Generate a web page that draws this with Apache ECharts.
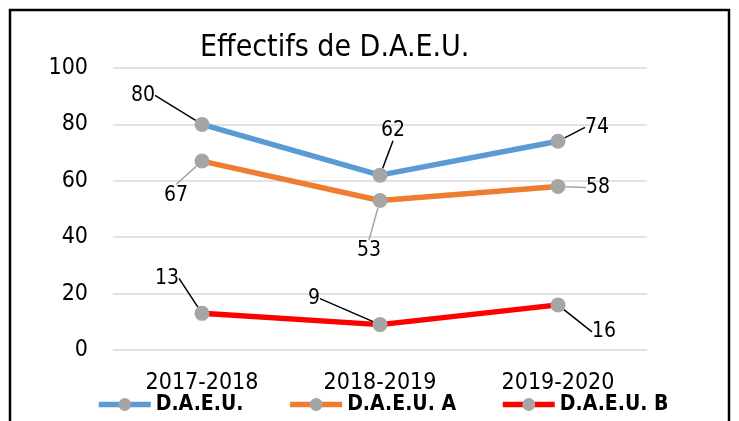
<html>
<head>
<meta charset="UTF-8" />
<script src="https://cdn.jsdelivr.net/npm/echarts@6/dist/echarts.min.js"></script>
<style>
  body { margin: 0; background: #fff; }
</style>
</head>
<body>
<div id="container" style="width: 739px; height: 421px;"></div>
<script>
// data
var categories = ['2017-2018', '2018-2019', '2019-2020'];
var seriesNames = ['D.A.E.U.', 'D.A.E.U. A', 'D.A.E.U. B'];
var daeu = [80, 62, 74];
var daeuA = [67, 53, 58];
var daeuB = [13, 9, 16];

var FONT = '"Liberation Sans Narrow", "DejaVu Sans Condensed", sans-serif';

// where each data label is pushed, relative to its point
var labelShift = [
    [[-59, -29], [13, -45], [39, -14]],
    [[-26, 34], [-11, 50], [40, 1]],
    [[-35, -35], [-66, -26], [46, 27]]
];

function makeSeries(idx, name, values, color, guideColor) {
    return {
        name: name,
        type: 'line',
        data: values,
        symbol: 'circle',
        symbolSize: 15,
        lineStyle: { color: color, width: 5.5 },
        itemStyle: { color: '#A5A5A5' },
        label: {
            show: true,
            position: 'inside',
            fontFamily: FONT,
            fontSize: 21,
            color: '#000'
        },
        labelLine: {
            show: true,
            lineStyle: { color: guideColor, width: 1.5 }
        },
        labelLayout: function (p) {
            var s = labelShift[idx][p.dataIndex];
            return { dx: s[0], dy: s[1] };
        },
        emphasis: { disabled: true },
        animation: false
    };
}

var chart = echarts.init(document.getElementById('container'));
chart.setOption({
    backgroundColor: '#fff',
    title: {
        text: 'Effectifs de D.A.E.U.',
        left: 195,
        top: 28,
        textStyle: { fontFamily: FONT, fontSize: 30, fontWeight: 'normal', color: '#000' }
    },
    grid: { left: 113, right: 92, top: 68, bottom: 71 },
    xAxis: {
        type: 'category',
        data: categories,
        axisLine: { show: false },
        axisTick: { show: false },
        axisLabel: { fontFamily: FONT, fontSize: 23, color: '#000', margin: 22 }
    },
    yAxis: {
        type: 'value',
        min: 0,
        max: 100,
        interval: 20,
        axisLabel: { fontFamily: FONT, fontSize: 23, color: '#000', margin: 25 },
        splitLine: { lineStyle: { color: '#D9D9D9', width: 1.5 } }
    },
    legend: {
        bottom: 1,
        left: 91,
        itemWidth: 52,
        itemHeight: 16,
        itemGap: 44,
        lineStyle: { width: 5.5 },
        textStyle: { fontFamily: FONT, fontSize: 21, fontWeight: 'bold', color: '#000' },
        data: seriesNames
    },
    graphic: [{
        type: 'rect',
        shape: { x: 10, y: 10, width: 719, height: 430 },
        style: { fill: 'none', stroke: '#000', lineWidth: 2.5 },
        silent: true
    }],
    series: [
        makeSeries(0, seriesNames[0], daeu, '#5B9BD5', '#000'),
        makeSeries(1, seriesNames[1], daeuA, '#ED7D31', '#A5A5A5'),
        makeSeries(2, seriesNames[2], daeuB, '#FF0000', '#000')
    ]
});
</script>
</body>
</html>
